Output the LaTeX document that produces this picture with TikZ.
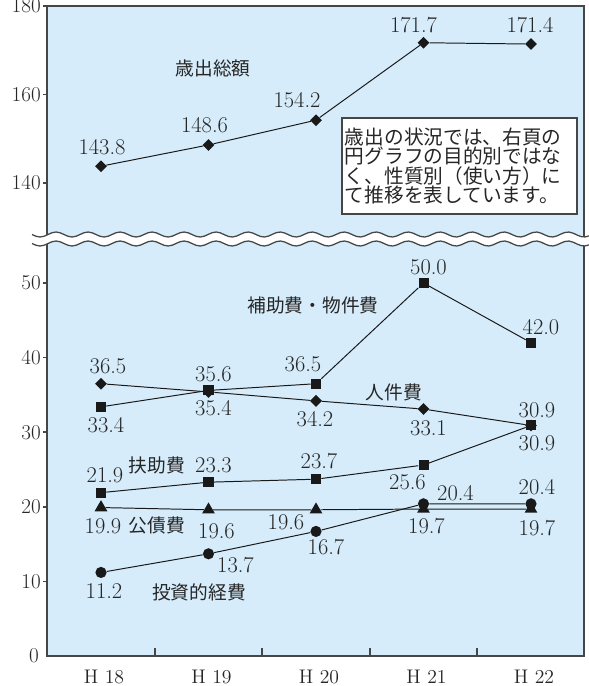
\documentclass[tikz,border=0pt]{standalone}
\usepackage{fontspec}
\newfontfamily\jpfont{Noto Sans CJK JP}
\usepackage{xcolor}
\usepackage{tikz}
\usetikzlibrary{shapes.geometric}
\definecolor{panelblue}{RGB}{214,236,250}
\definecolor{framegray}{RGB}{70,70,70}

\begin{document}
\begin{tikzpicture}[x=0.025cm,y=-0.025cm,
declare function={catx(\i)=101+107.5*\i; lowy(\v)=656-7.46*\v; upy(\v)=183-4.425*(\v-140);},
num/.style={font=\fontsize{16}{16}\selectfont,text=black!85,inner sep=0pt},
axlab/.style={font=\fontsize{15}{15}\selectfont,text=black!85,inner sep=0pt},
jlab/.style={font=\jpfont\fontsize{13.3}{13.3}\selectfont,text=black!85,inner sep=0pt},
diamark/.style={diamond,fill=black!90,inner sep=0pt,minimum size=0.3cm},
sqmark/.style={rectangle,fill=black!90,inner sep=0pt,minimum size=0.25cm},
circmark/.style={circle,fill=black!90,inner sep=0pt,minimum size=0.28cm},
trimark/.style={regular polygon,regular polygon sides=3,fill=black!90,inner sep=0pt,minimum size=0.37cm},
serie/.style={black!90,line width=0.7pt},
panelframe/.style={framegray,line width=1.2pt},
notebox/.style={draw=framegray,fill=white,line width=0.8pt,font=\jpfont\fontsize{14}{13.9}\selectfont,
  text=black!85,align=left,text width=5.725cm,inner xsep=0.075cm,minimum height=2.4cm}]
\useasboundingbox (0,0) rectangle (589,686);
% panel and axes
\fill[panelblue] (47,6) rectangle (584,656);
\draw[panelframe] (47,6) rectangle (584,656);
\foreach \v in {140,160,180} {
  \draw[panelframe] (43,{upy(\v)}) -- (47,{upy(\v)});
  \node[axlab,anchor=east] (yl\v) at (41,{upy(\v)}) {\v};
}
\foreach \v in {10,20,30,40,50} {
  \draw[panelframe] (43,{lowy(\v)}) -- (47,{lowy(\v)});
  \node[axlab,anchor=east] (yl\v) at (41,{lowy(\v)}) {\v};
}
\node[axlab,anchor=east] (yl0) at (39,656) {0};
\foreach \i in {0.5,1.5,2.5,3.5}
  \draw[panelframe] ({catx(\i)},656) -- ({catx(\i)},648);
\foreach \i/\h in {0/18,1/19,2/20,3/21,4/22}
  \node[font=\fontsize{14}{14}\selectfont,text=black!85,inner sep=0pt] (xl\h) at ({catx(\i)+3},677) {H \h};
% break of the axis
\fill[white] plot[domain=32:589,samples=140] (\x,{234.5+2.5*sin(\x*11.25)})
  -- plot[domain=589:32,samples=140] (\x,{243.5+2.5*sin(\x*11.25)}) -- cycle;
\draw[framegray,line width=0.9pt] plot[domain=32:589,samples=140] (\x,{234.5+2.5*sin(\x*11.25)});
\draw[framegray,line width=0.9pt] plot[domain=32:589,samples=140] (\x,{243.5+2.5*sin(\x*11.25)});

% total
\node[diamark] (tot1) at ({catx(0)},{upy(143.8)}) {};
\node[diamark] (tot2) at ({catx(1)},{upy(148.6)}) {};
\node[diamark] (tot3) at ({catx(2)},{upy(154.2)}) {};
\node[diamark] (tot4) at ({catx(3)},{upy(171.7)}) {};
\node[diamark] (tot5) at ({catx(4)},{upy(171.4)}) {};
\draw[serie] (tot1) -- (tot2) -- (tot3) -- (tot4) -- (tot5);
\node[num] (totv1) at ([shift={(1,-19)}]tot1) {143.8};
\node[num] (totv2) at ([shift={(-4,-20)}]tot2) {148.6};
\node[num] (totv3) at ([shift={(-19,-20)}]tot3) {154.2};
\node[num] (totv4) at ([shift={(-10,-18)}]tot4) {171.7};
\node[num] (totv5) at ([shift={(-1,-19)}]tot5) {171.4};
\node[jlab] (totname) at (213,68) {歳出総額};
\node[notebox] (note) at (459.5,166) {歳出の状況では、右頁の\\円グラフの目的別ではな\\く、性質別（使い方）に\\て推移を表しています。};

% personnel
\node[diamark] (jin1) at ({catx(0)},{lowy(36.5)}) {};
\node[diamark] (jin2) at ({catx(1)},{lowy(35.4)}) {};
\node[diamark] (jin3) at ({catx(2)},{lowy(34.2)}) {};
\node[diamark] (jin4) at ({catx(3)},{lowy(33.1)}) {};
\node[diamark] (jin5) at ({catx(4)},{lowy(30.9)}) {};
% debt service
\node[trimark] (kosai1) at ({catx(0)},{lowy(19.9)}) {};
\node[trimark] (kosai2) at ({catx(1)},{lowy(19.6)}) {};
\node[trimark] (kosai3) at ({catx(2)},{lowy(19.6)}) {};
\node[trimark] (kosai4) at ({catx(3)},{lowy(19.7)}) {};
\node[trimark] (kosai5) at ({catx(4)},{lowy(19.7)}) {};
% subsidies and goods
\node[sqmark] (hojo1) at ({catx(0)},{lowy(33.4)}) {};
\node[sqmark] (hojo2) at ({catx(1)},{lowy(35.6)}) {};
\node[sqmark] (hojo3) at ({catx(2)},{lowy(36.5)}) {};
\node[sqmark] (hojo4) at ({catx(3)},{lowy(50.0)}) {};
\node[sqmark] (hojo5) at ({catx(4)},{lowy(42.0)}) {};
% assistance
\node[sqmark] (fujo1) at ({catx(0)},{lowy(21.9)}) {};
\node[sqmark] (fujo2) at ({catx(1)},{lowy(23.3)}) {};
\node[sqmark] (fujo3) at ({catx(2)},{lowy(23.7)}) {};
\node[sqmark] (fujo4) at ({catx(3)},{lowy(25.6)}) {};
\node[sqmark] (fujo5) at ({catx(4)},{lowy(30.9)}) {};
% investment
\node[circmark] (toshi1) at ({catx(0)},{lowy(11.2)}) {};
\node[circmark] (toshi2) at ({catx(1)},{lowy(13.7)}) {};
\node[circmark] (toshi3) at ({catx(2)},{lowy(16.7)}) {};
\node[circmark] (toshi4) at ({catx(3)},{lowy(20.4)}) {};
\node[circmark] (toshi5) at ({catx(4)},{lowy(20.4)}) {};

\draw[serie] (jin1) -- (jin2) -- (jin3) -- (jin4) -- (jin5);
\draw[serie] (kosai1) -- (kosai2) -- (kosai3) -- (kosai4) -- (kosai5);
\draw[serie] (hojo1) -- (hojo2) -- (hojo3) -- (hojo4) -- (hojo5);
\draw[serie] (fujo1) -- (fujo2) -- (fujo3) -- (fujo4) -- (fujo5);
\draw[serie] (toshi1) -- (toshi2) -- (toshi3) -- (toshi4) -- (toshi5);

\node[num] (hojov1) at ([shift={(5,18)}]hojo1) {33.4};
\node[num] (hojov2) at ([shift={(5,-16)}]hojo2) {35.6};
\node[num] (hojov3) at ([shift={(-13,-19)}]hojo3) {36.5};
\node[num] (hojov4) at ([shift={(5,-16)}]hojo4) {50.0};
\node[num] (hojov5) at ([shift={(10,-16)}]hojo5) {42.0};
\node[num] (jinv1) at ([shift={(7,-17)}]jin1) {36.5};
\node[num] (jinv2) at ([shift={(5,16)}]jin2) {35.4};
\node[num] (jinv3) at ([shift={(-1,18)}]jin3) {34.2};
\node[num] (jinv4) at ([shift={(5,19)}]jin4) {33.1};
\node[num] (jinv5) at ([shift={(6,-15)}]jin5) {30.9};
\node[num] (fujov1) at ([shift={(4,-17)}]fujo1) {21.9};
\node[num] (fujov2) at ([shift={(5,-17)}]fujo2) {23.3};
\node[num] (fujov3) at ([shift={(3,-18)}]fujo3) {23.7};
\node[num] (fujov4) at ([shift={(-16,17)}]fujo4) {25.6};
\node[num] (fujov5) at ([shift={(6,18)}]fujo5) {30.9};
\node[num] (kosaiv1) at ([shift={(2,19)}]kosai1) {19.9};
\node[num] (kosaiv2) at ([shift={(8,21)}]kosai2) {19.6};
\node[num] (kosaiv3) at ([shift={(-30,12)}]kosai3) {19.6};
\node[num] (kosaiv4) at ([shift={(3,17)}]kosai4) {19.7};
\node[num] (kosaiv5) at ([shift={(6,19)}]kosai5) {19.7};
\node[num] (toshiv1) at ([shift={(3,19)}]toshi1) {11.2};
\node[num] (toshiv2) at ([shift={(27,11)}]toshi2) {13.7};
\node[num] (toshiv3) at ([shift={(10,16)}]toshi3) {16.7};
\node[num] (toshiv4) at ([shift={(32,-11)}]toshi4) {20.4};
\node[num] (toshiv5) at ([shift={(6,-17)}]toshi5) {20.4};

\node[jlab] (hojoname) at (313,305) {補助費・物件費};
\node[jlab] (jinname) at (394,392) {人件費};
\node[jlab] (fujoname) at (157,465) {扶助費};
\node[jlab] (kosainame) at (157,525) {公債費};
\node[jlab] (toshiname) at (199,592) {投資的経費};
\end{tikzpicture}
\end{document}
